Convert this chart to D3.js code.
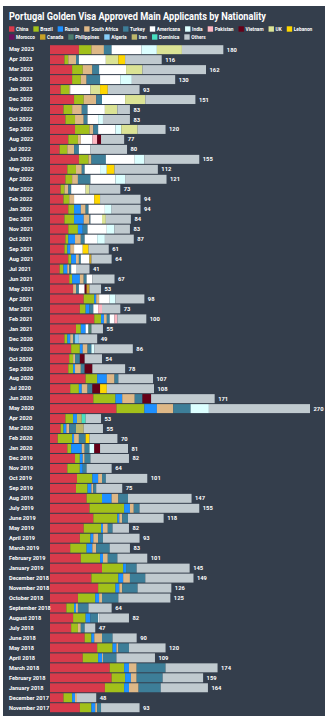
<!DOCTYPE html>
<html><head><meta charset="utf-8">
<script src="https://cdn.jsdelivr.net/npm/d3@7/dist/d3.min.js"></script>
<style>
html,body{margin:0;padding:0;background:#fff;}
svg{display:block;}
text{font-family:Roboto,"Noto Sans",sans-serif;}
</style></head><body>
<script>
const months = ["May 2023","Apr 2023","Mar 2023","Feb 2023","Jan 2023","Dec 2022","Nov 2022","Oct 2022","Sep 2022","Aug 2022","Jul 2022","Jun 2022","May 2022","Apr 2022","Mar 2022","Feb 2022","Jan 2022","Dec 2021","Nov 2021","Oct 2021","Sep 2021","Aug 2021","Jul 2021","Jun 2021","May 2021","Apr 2021","Mar 2021","Feb 2021","Jan 2021","Dec 2020","Nov 2020","Oct 2020","Sep 2020","Aug 2020","Jul 2020","Jun 2020","May 2020","Apr 2020","Mar 2020","Feb 2020","Jan 2020","Dec 2019","Nov 2019","Oct 2019","Sep 2019","Aug 2019","July 2019","June 2019","May 2019","April 2019","March 2019","February 2019","January 2019","December 2018","November 2018","October 2018","September 2018","August 2018","July 2018","June 2018","May 2018","April 2018","March 2018","February 2018","January 2018","December 2017","November 2017"];

const seriesNames = ["China","Brazil","Russia","South Africa","Turkey","Americana","India","Pakistan","Vietnam","UK","Lebanon","Morocco","Canada","Philippines","Algeria","Iran","Dominica","Others"];
const seriesColors = ["#d83a4b","#a2c01a","#1e90ff","#deb887","#3d7e98","#ffffff","#dcffff","#ffb6c1","#660018","#dbe395","#ffd700","#6b0f5e","#c9a227","#4e7d6e","#87cefa","#bdb76b","#48e0c0","#c0cacf"];

const china = [30,15,23,23,11,25,14,16,26,19,10,30,18,16,11,14,19,15,19,16,15,19,10,20,24,35,31,46,27,15,22,20,19,37,21,45,69,16,11,8,18,26,18,28,27,38,41,45,35,31,21,32,54,43,50,29,17,24,22,36,49,34,62,64,57,14,31];
const brazil = [13,4,11,9,9,10,9,10,15,10,8,10,9,7,4,6,6,10,10,3,3,3,4,3,0,11,6,7,5,3,9,4,5,12,9,23,29,8,3,15,4,5,13,16,12,16,36,25,18,11,17,20,22,28,18,18,8,13,7,7,16,16,15,14,20,9,12];
const russia = [0,0,0,0,0,0,0,0,0,0,0,0,0,0,0,0,7,10,5,7,3,5,4,8,0,2,4,3,5,3,3,0,2,10,3,7,13,4,3,2,11,3,3,6,4,10,6,2,2,3,6,3,3,5,4,4,2,5,0,3,4,4,5,6,5,3,4];
const southAfrica = [13,8,10,6,1,13,10,9,4,3,7,3,6,6,4,5,5,6,0,6,4,3,2,4,3,3,0,3,0,3,5,2,6,8,6,13,17,0,3,5,3,2,0,4,2,7,4,3,5,5,4,5,0,7,3,3,2,0,3,8,2,1,8,6,10,2,2];
const turkey = [8,3,7,14,0,6,6,4,5,0,5,15,3,13,3,0,3,1,5,4,0,2,2,3,3,0,4,3,0,2,4,5,4,4,5,8,18,0,7,7,5,6,4,4,3,10,6,6,5,5,14,10,11,16,16,17,11,8,4,11,11,14,30,27,23,0,4];
const americana = [31,28,28,21,21,24,18,11,18,12,12,30,16,26,15,21,17,12,20,13,9,9,5,6,6,11,5,5,3,0,0,0,0,0,0,0,0,0,0,0,0,0,0,0,0,0,0,0,0,0,0,0,0,0,0,0,0,1,0,0,0,0,0,0,0,0,0];
const india = [16,0,0,12,0,0,0,5,6,0,0,10,7,10,0,0,7,0,8,8,0,0,0,0,0,6,0,0,0,0,3,0,0,0,0,0,19,0,0,0,5,0,0,0,0,0,0,0,0,0,0,0,0,0,0,0,0,0,0,0,0,0,0,0,0,0,0];
const pakistan = [0,0,0,0,0,0,0,0,0,5,0,0,0,0,0,0,0,0,0,0,0,0,0,0,0,0,4,3,0,0,0,0,0,0,0,0,0,0,0,0,0,0,0,0,0,0,0,0,0,0,0,0,0,0,0,0,0,0,0,0,0,0,0,0,0,0,0];
const vietnam = [0,0,0,0,0,0,0,0,0,4,0,0,0,0,0,0,0,0,0,0,0,0,0,0,2,0,0,0,0,0,0,5,8,0,8,9,0,0,0,0,6,0,0,0,0,0,0,0,0,0,0,0,0,0,0,0,0,0,0,0,0,0,0,0,0,0,0];
const uk = [26,13,17,0,10,21,13,0,17,0,0,0,0,0,4,0,0,4,0,0,0,0,0,0,0,0,0,0,0,0,0,0,0,0,0,0,0,0,0,0,0,0,0,0,0,0,0,0,0,0,0,0,0,0,0,0,0,0,0,0,0,0,0,0,0,0,0];
const lebanon = [0,7,0,0,8,0,0,0,0,0,0,0,8,0,0,6,0,0,0,0,6,0,0,0,0,0,0,0,0,0,0,0,0,0,7,0,0,0,0,4,0,0,0,0,0,0,0,0,0,0,0,0,0,0,0,0,0,0,0,0,0,0,0,0,0,0,0];
const morocco = [0,0,0,0,0,0,0,0,0,0,0,0,0,0,0,0,0,0,0,0,0,0,0,0,0,0,0,0,0,0,0,0,0,0,0,0,0,0,0,0,0,0,0,0,0,0,0,0,0,0,0,0,0,0,0,0,0,0,0,0,0,0,0,0,0,0,0];
const canada = [0,0,0,0,0,0,0,0,0,0,0,0,0,0,0,0,0,0,0,0,0,2,0,0,3,0,0,0,0,0,0,0,0,0,0,0,0,0,0,0,0,0,0,0,0,0,0,0,0,0,0,0,0,0,0,0,0,0,0,0,0,0,0,0,0,0,0];
const philippines = [0,0,0,0,0,0,0,0,0,0,0,0,0,0,0,0,0,0,0,0,0,0,0,0,0,0,0,0,3,0,0,0,0,0,0,0,0,0,0,0,0,0,0,0,0,0,0,0,0,0,0,0,0,0,0,0,0,0,0,0,0,0,0,0,0,0,0];
const algeria = [0,0,0,0,0,0,0,0,0,0,0,0,0,0,0,0,0,0,0,0,0,0,0,0,0,0,0,0,0,4,0,0,0,0,0,0,0,0,0,0,0,0,0,0,0,0,0,0,0,0,0,0,0,0,0,0,0,0,0,0,0,0,0,0,0,0,0];
const iran = [0,0,0,0,0,0,0,0,0,0,0,0,0,0,0,0,0,0,0,0,0,0,0,0,0,0,0,0,0,0,0,0,0,0,0,0,0,5,8,0,0,0,0,0,0,0,0,0,0,0,0,0,0,0,0,0,0,0,0,0,0,0,0,0,0,0,0];
const dominica = [0,0,0,0,0,0,0,0,0,0,0,0,0,0,0,0,0,0,0,0,0,0,0,0,0,0,0,0,0,0,0,0,0,0,0,0,0,4,0,0,0,0,0,0,0,0,0,0,0,0,0,0,0,0,0,0,0,0,0,0,0,0,0,0,0,0,0];
const others = [43,38,66,45,33,52,13,28,29,24,38,57,45,43,32,42,30,26,16,30,21,21,14,23,12,30,19,30,12,19,40,18,34,36,49,66,105,16,20,29,29,40,26,43,27,66,62,37,17,38,21,31,55,50,35,54,24,31,11,25,38,40,54,42,49,20,40];

const seriesValues = [china,brazil,russia,southAfrica,turkey,americana,india,pakistan,vietnam,uk,lebanon,morocco,canada,philippines,algeria,iran,dominica,others];
const titleText = "Portugal Golden Visa Approved Main Applicants by Nationality";

const rows = months.map((m,i)=>{
  const o = {month:m};
  seriesNames.forEach((s,j)=>{ o[s] = seriesValues[j][i]; });
  o.total = d3.sum(seriesValues, arr=>arr[i]);
  return o;
});

const W = 333, H = 716;
const svg = d3.select("body").append("svg").attr("width",W).attr("height",H);
svg.append("rect").attr("x",3).attr("y",6).attr("width",322).attr("height",H-6).attr("fill","#343e4c");

svg.append("text").attr("x",9).attr("y",20).attr("fill","#fff")
  .attr("font-size",10.2).attr("font-weight",700)
  .attr("textLength",257).attr("lengthAdjust","spacingAndGlyphs")
  .text(titleText);

const legendRows = [seriesNames.slice(0,11), seriesNames.slice(11)];
const legendY = [29, 37];
legendRows.forEach((names,r)=>{
  let x = 9;
  names.forEach(n=>{
    const j = seriesNames.indexOf(n);
    const g = svg.append("g");
    g.append("rect").attr("x",x).attr("y",legendY[r]-2.7).attr("width",5.4).attr("height",5.4).attr("fill",seriesColors[j]);
    const t = g.append("text").attr("x",x+7).attr("y",legendY[r]).attr("dy","0.35em")
      .attr("fill","#fff").attr("font-size",4.8).attr("font-weight",700).text(n);
    const w = t.node().getComputedTextLength();
    x = x + 7 + w + 5;
  });
});

const x = d3.scaleLinear().domain([0,270]).range([50,310]);
const y = d3.scaleBand().domain(months).range([44.7, 44.7 + months.length*9.97]).paddingInner(0.1).paddingOuter(0.05);

const stacked = d3.stack().keys(seriesNames)(rows);

svg.append("g").selectAll("g").data(stacked).join("g")
  .attr("fill",(d,i)=>seriesColors[i])
  .selectAll("rect").data(d=>d.filter(p=>p[1]-p[0]>0)).join("rect")
  .attr("x",d=>x(d[0])).attr("width",d=>x(d[1])-x(d[0]))
  .attr("y",d=>y(d.data.month)).attr("height",y.bandwidth());

const yAxis = svg.append("g").attr("transform","translate(50,0)")
  .call(d3.axisLeft(y).tickSize(0).tickPadding(0));
yAxis.select(".domain").remove();
yAxis.selectAll("text").attr("x",-41).attr("text-anchor","start")
  .attr("fill","#fff").attr("font-size",5.6).attr("font-weight",700)
  .attr("font-family","Roboto, sans-serif");

svg.append("g").selectAll("text").data(rows).join("text")
  .attr("x",d=>x(d.total)+3.5).attr("y",d=>y(d.month)+y.bandwidth()/2).attr("dy","0.35em")
  .attr("fill","#fff").attr("font-size",5.8).attr("font-weight",700)
  .text(d=>d.total);
</script>
</body></html>
